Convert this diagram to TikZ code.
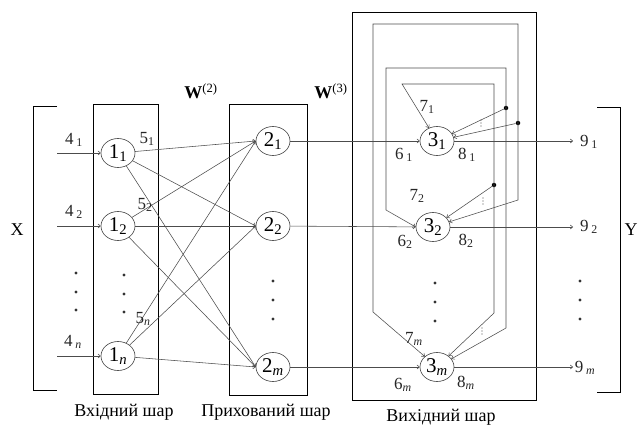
\documentclass[tikz,border=0pt]{standalone}
\usepackage{fontspec}
\setmainfont{Liberation Serif}
\usetikzlibrary{arrows.meta,shapes.geometric}

\tikzset{
  neuron/.style={ellipse, draw=black!75, line width=0.6pt, minimum width=34pt,
                 minimum height=29pt, inner sep=0pt, font=\fontsize{21}{21}\selectfont},
  layerbox/.style={draw=black, line width=0.9pt},
  link/.style={draw=black!70, line width=0.55pt},
  arr/.style={link, -{To[length=3pt,width=4.5pt]}},
  lbl/.style={font=\fontsize{17}{17}\selectfont, text=black!85, inner sep=0pt},
  caption/.style={font=\fontsize{18}{18}\selectfont, inner sep=0pt},
  dotmark/.style={circle, fill=black!80, inner sep=0pt, minimum size=3.2pt},
  joint/.style={circle, fill=black, inner sep=0pt, minimum size=4.5pt},
  tinydot/.style={circle, fill=black!70, inner sep=0pt, minimum size=1.3pt}
}
\newcommand{\sub}[1]{\textsubscript{#1}}

\begin{document}
\begin{tikzpicture}[x=1pt,y=-1pt]
\useasboundingbox (0,0) rectangle (639,425);

% ---------- layer frames ----------
\draw[layerbox] (93,104) rectangle (158,394);
\draw[layerbox] (229,104) rectangle (307,395);
\draw[layerbox] (352,12) rectangle (536,400);

% brackets for the input and output vectors
\draw[line width=0.9pt] (57,106) -- (33,106) -- (33,390) -- (57,390);
\draw[line width=0.9pt] (597,107) -- (620,107) -- (620,392) -- (597,392);
\node[caption] (X) at (17,230) {X};
\node[caption] (Y) at (631,230) {Y};

% ---------- neurons ----------
\node[neuron] (i1) at (118,153) {1\sub{1}};
\node[neuron] (i2) at (118,226) {1\sub{2}};
\node[neuron] (in) at (118,356) {1\sub{\itshape n}};

\node[neuron] (h1) at (273,141) {2\sub{1}};
\node[neuron] (h2) at (273,226) {2\sub{2}};
\node[neuron] (hm) at (273,367) {2\sub{\itshape m}};

\node[neuron] (o1) at (437,141) {3\sub{1}};
\node[neuron] (o2) at (433,227) {3\sub{2}};
\node[neuron] (om) at (437,367) {3\sub{\itshape m}};

% ---------- inputs ----------
\coordinate (x1) at (57,153);
\coordinate (x2) at (57,226);
\coordinate (xn) at (57,356);
\draw[arr] (x1) -- (i1);
\draw[arr] (x2) -- (i2);
\draw[arr] (xn) -- (in);
\node[lbl] (l41) at (74,140) {4\,\sub{1}};
\node[lbl] (l42) at (74,212) {4\,\sub{2}};
\node[lbl] (l4n) at (73,342) {4\,\sub{\itshape n}};

% ---------- input -> hidden (W(2)) ----------
\foreach \a in {i1,i2,in}{
  \foreach \b in {h1,h2,hm}{
    \draw[arr] (\a) -- (\b.west);
  }
}
\node[lbl] (l51) at (147,139) {5\sub{1}};
\node[lbl] (l52) at (145,205) {5\sub{2}};
\node[lbl] (l5n) at (143,319) {5\sub{\itshape n}};

\node[caption] (w2) at (201,91) {\textbf{W}\textsuperscript{(2)}};
\node[caption] (w3) at (331,91) {\textbf{W}\textsuperscript{(3)}};

% ---------- hidden -> output ----------
\draw[arr] (h1) -- (o1);
\draw[arr] (h2) -- (o2);
\draw[arr] (hm) -- (om);

% ---------- outputs ----------
\coordinate (y1) at (573,141);
\coordinate (y2) at (573,227);
\coordinate (ym) at (573,367);
\draw[arr] (o1) -- (y1);
\draw[arr] (o2) -- (y2);
\draw[arr] (om) -- (ym);
\node[lbl] (l91) at (589,142) {9\,\sub{1}};
\node[lbl] (l92) at (589,227) {9\,\sub{2}};
\node[lbl] (l9m) at (585,368) {9\,\sub{\itshape m}};

% ---------- recurrent links of the output layer ----------
% loop A: corner (402,84) feeds 3_1 and runs down at x=494
\coordinate (a0) at (402,84);
\coordinate (a1) at (494,84);
\coordinate (a2) at (494,313);
\node[joint] (ja) at (494,185) {};
% loop B: left side x=386, right side x=506
\coordinate (b0) at (386,210);
\coordinate (b1) at (386,68);
\coordinate (b2) at (506,68);
\coordinate (b3) at (506,328);
\node[joint] (jb) at (506,108) {};
% loop C: left side x=373, right side x=518
\coordinate (c0) at (373,312);
\coordinate (c1) at (373,24);
\coordinate (c2) at (518,24);
\coordinate (c3) at (518,200);
\node[joint] (jc) at (518,123) {};

\draw[arr] (a2) -- (a1) -- (a0) -- (o1);
\draw[arr] (ja) -- (o2);
\draw[arr] (a2) -- (om);

\draw[arr] (b3) -- (b2) -- (b1) -- (b0) -- (o2.west);
\draw[arr] (jb) -- (o1);
\draw[arr] (b3) -- (om);

\draw[arr] (c3) -- (c2) -- (c1) -- (c0) -- (om);
\draw[arr] (jc) -- (o1);
\draw[arr] (c3) -- (o2);

% small "more links" marks between the paired feedback arrows
\foreach \px/\py in {481/123, 483/201, 482/331}{
  \foreach \k in {-3,0,3}{ \node[tinydot] at (\px,\py+\k) {}; }
}

\node[lbl] (l71) at (427,107) {7\sub{1}};
\node[lbl] (l61) at (404,155) {6\,\sub{1}};
\node[lbl] (l81) at (467,155) {8\,\sub{1}};
\node[lbl] (l72) at (417,196) {7\sub{2}};
\node[lbl] (l62) at (405,242) {6\sub{2}};
\node[lbl] (l82) at (466,241) {8\sub{2}};
\node[lbl] (l7m) at (414,339) {7\sub{\itshape m}};
\node[lbl] (l6m) at (403,385) {6\sub{\itshape m}};
\node[lbl] (l8m) at (466,383) {8\sub{\itshape m}};

% ---------- ellipsis dots ----------
\foreach \y in {273,292,310}{ \node[dotmark] at (76,\y) {}; \node[dotmark] at (124,\y+2) {}; }
\foreach \y in {281,300,319}{ \node[dotmark] at (273,\y) {}; \node[dotmark] at (580,\y) {}; \node[dotmark] at (435,\y+2) {}; }

% ---------- layer captions ----------
\node[caption] (c1cap) at (124,412) {Вхідний шар};
\node[caption] (c2cap) at (266,412) {Прихований шар};
\node[caption] (c3cap) at (441,417) {Вихідний шар};
\end{tikzpicture}
\end{document}
